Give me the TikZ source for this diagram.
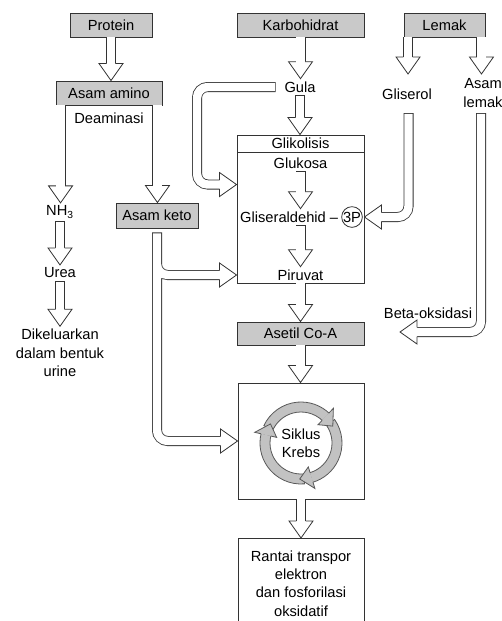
\documentclass[tikz,border=0pt]{standalone}
\usepackage{fontspec}
\setmainfont{Liberation Sans}
\usepackage{xcolor}
\usetikzlibrary{calc}

\definecolor{boxgray}{HTML}{C9C9C9}
\definecolor{linec}{HTML}{333333}
\definecolor{ringgray}{HTML}{C2C2C2}

\tikzset{
  gbox/.style={draw=linec, fill=boxgray, line width=0.7pt, inner sep=0pt},
  wbox/.style={draw=linec, fill=white, line width=0.7pt, inner sep=0pt},
  lbl/.style={inner sep=2pt, align=center},
  shaft/.style={draw=linec, line width=0.6pt, double=white, double distance=6.3pt, shorten >=12pt},
  closed/.style={line cap=rect, shorten <=3.75pt},
  ring/.style={fill=ringgray, draw=black!65, line width=0.6pt},
  head/.pic={\filldraw[fill=white, draw=linec, line width=0.6pt, line join=miter]
    (-17,-4.6) -- (-17,-12) -- (0,0) -- (-17,12) -- (-17,4.6);}
}

% straight downward block arrow
\newcommand{\vflow}[3][]{%
  \draw[shaft,#1] (#2) -- (#2 |- #3);
  \pic[rotate=-90] at (#2 |- #3) {head};}

\begin{document}
\begin{tikzpicture}[x=0.75pt,y=0.75pt,yscale=-1,xscale=1]
\fontsize{11}{13.8}\selectfont
\useasboundingbox (0,0) rectangle (501,621);

% top row
\node[gbox, minimum width=61.5pt, minimum height=18pt] (protein) at (111,25) {Protein};
\node[gbox, minimum width=95.25pt, minimum height=18pt] (karbo) at (300.5,25) {Karbohidrat};
\node[gbox, minimum width=60.75pt, minimum height=18pt] (lemak) at (444.5,25) {Lemak};

% protein branch
\node[gbox, minimum width=79.5pt, minimum height=18pt] (amino) at (109,93) {Asam amino};
\node[lbl] (deam) at (109,118) {Deaminasi};
\node[gbox, minimum width=61.5pt, minimum height=18.75pt] (keto) at (157,215.5) {Asam keto};
\node[lbl] (nh3) at (60,212) {NH\textsubscript{3}};
\node[lbl] (urea) at (60,273) {Urea};
\node[lbl] (urine) at (60,353) {Dikeluarkan\\dalam bentuk\\urine};

% karbohidrat and lemak
\node[lbl] (gula) at (300,87) {Gula};
\node[lbl] (gliserol) at (407,94) {Gliserol};
\node[lbl] (aslemak) at (483,93) {Asam\\lemak};

% glikolisis
\node[wbox, minimum width=95.25pt, minimum height=111pt] (glik) at (300.5,209) {};
\node[wbox, minimum width=95.25pt, minimum height=12.75pt, anchor=north] (glikh) at (glik.north) {Glikolisis};
\node[lbl] (glukosa) at (300.5,163) {Glukosa};
\node[lbl, anchor=east] (gald) at (341,217) {Gliseraldehid \textendash};
\node[draw=linec, circle, line width=0.6pt, inner sep=0pt, minimum size=14.5pt] (p3) at (352,217) {3P};
\node[lbl] (piruvat) at (300.5,275) {Piruvat};

\node[gbox, minimum width=95.25pt, minimum height=17.25pt] (asetil) at (300.5,333.5) {Asetil Co-A};
\node[lbl] (beta) at (428,313) {Beta-oksidasi};

% krebs
\node[wbox, minimum width=94.5pt, minimum height=87pt] (krebs) at (301,441) {};
\begin{scope}[shift={(301,443)}, yscale=-1]
  \foreach \t/\h [evaluate=\h as \e using \h-1] in {155/47, 35/-73, -85/-193}
    \filldraw[ring] (\t:41) arc[start angle=\t, end angle=\e, radius=41]
      -- (\e:31) arc[start angle=\e, end angle=\t, radius=31] -- cycle;
  \foreach \h [evaluate=\h as \tp using \h-19] in {47,-73,-193}
    \filldraw[ring] (\h:41) -- (\h:47.5) -- (\tp:36) -- (\h:25) -- (\h:31);
\end{scope}
\node[lbl] (siklus) at (301,443) {Siklus\\Krebs};

\node[wbox, anchor=north, minimum width=94.5pt, inner ysep=9pt, align=center] (rantai) at (301,538) {Rantai transpor\\elektron\\dan fosforilasi\\oksidatif};

% helper points
\coordinate (amL) at ($(amino.south west)+(5,0)$);
\coordinate (amR) at ($(amino.south east)+(-5,0)$);
\coordinate (lemL) at ($(lemak.south west)+(4.5,0)$);
\coordinate (lemR) at ($(lemak.south east)+(-4,0)$);
\coordinate (tipY) at (0,74);
\coordinate (gulaL) at ($(gula.west)+(-6,0)$);
\coordinate (tGula) at ($(glik.north west)+(0,50)$);
\coordinate (glTop) at (408.5,113);
\coordinate (t3P) at (glik.east |- p3);
\coordinate (alTop) at (481,113);
\coordinate (tBeta) at (400,332);
\coordinate (kTop) at ($(keto.south)+(0,9)$);
\coordinate (tKeto1) at (glik.west |- piruvat);
\coordinate (kEnd1) at ($(tKeto1)+(-16,0)$);
\coordinate (tKeto2) at (krebs.west);
\coordinate (galdS) at (piruvat.north |- gald.south);

% straight arrows
\vflow{protein.south}{amino.north}
\vflow{amL}{nh3.north}
\vflow{amR}{keto.north}
\vflow[closed]{nh3.south}{urea.north}
\vflow[closed]{urea.south}{urine.north}
\vflow{karbo.south}{gula.north}
\vflow[closed]{gula.south}{glik.north}
\vflow{lemL}{tipY}
\vflow{lemR}{tipY}
\vflow[closed]{glukosa.south}{gald.north}
\vflow[closed]{galdS}{piruvat.north}
\vflow{glik.south}{asetil.north}
\vflow{asetil.south}{krebs.north}
\vflow{krebs.south}{rantai.north}

% bent arrows
\draw[shaft, closed, rounded corners=8pt] (gulaL) -| ($(tGula)+(-39.5,0)$) -- (tGula);
\pic at (tGula) {head};
\draw[shaft, closed, rounded corners=8pt] (glTop) |- (t3P);
\pic[rotate=180] at (t3P) {head};
\draw[shaft, closed, rounded corners=8pt] (alTop) |- (tBeta);
\pic[rotate=180] at (tBeta) {head};
\draw[shaft, line cap=rect, rounded corners=8pt] (kTop) |- (kEnd1) (kTop) |- (tKeto2);
\pic at (tKeto1) {head};
\pic at (tKeto2) {head};

\end{tikzpicture}
\end{document}
